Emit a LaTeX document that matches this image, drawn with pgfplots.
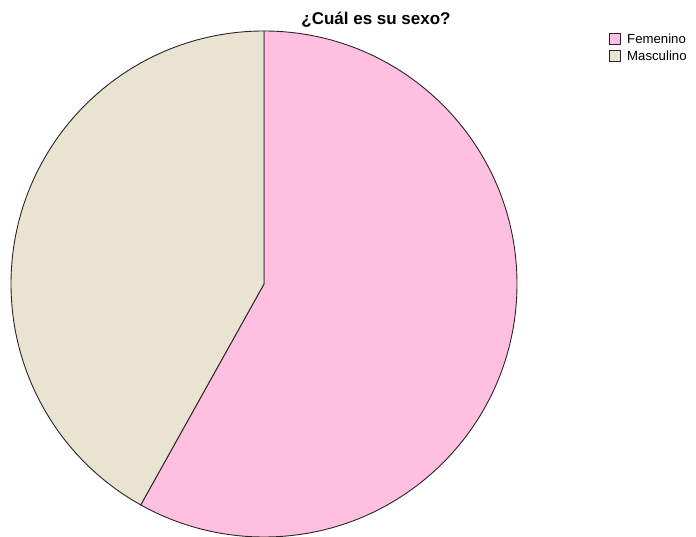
\documentclass[border=0pt]{standalone}
\usepackage{pgfplots}
\pgfplotsset{compat=1.18}
\usepackage{pgfplotstable}
\usepackage{fontspec}
\setmainfont{Liberation Sans}
\definecolor{femenino}{RGB}{255,191,225}
\definecolor{masculino}{RGB}{233,227,209}
\definecolor{borde}{RGB}{45,35,38}

% Porcentaje de respuestas por sexo
\pgfplotstableread{
sexo porcentaje
Femenino 58.1
Masculino 41.9
}\sexotabla

\begin{document}
\begin{tikzpicture}
\useasboundingbox (0pt,0pt) rectangle (696pt,537pt);
\pgfplotstablegetelem{0}{porcentaje}\of\sexotabla
\pgfmathsetmacro{\angF}{3.6*\pgfplotsretval}
\pgfplotstablegetelem{1}{porcentaje}\of\sexotabla
\pgfmathsetmacro{\angM}{3.6*\pgfplotsretval}
\begin{axis}[scale only axis, width=506pt, height=506pt,
  xmin=-1, xmax=1, ymin=-1, ymax=1, hide axis,
  anchor=center, at={(264pt,253pt)}, clip=false]
% sectores, en sentido horario desde las 12
\filldraw[fill=femenino, draw=borde, line width=0.9pt, line join=round]
  (axis cs:0,0) -- (axis cs:0,1) arc[start angle=90, delta angle=-\angF, radius=253pt] -- cycle;
\filldraw[fill=masculino, draw=borde, line width=0.9pt, line join=round]
  (axis cs:0,0) -- (axis cs:0,1) arc[start angle=90, delta angle=\angM, radius=253pt] -- cycle;
\end{axis}
\node[anchor=base, font=\bfseries\fontsize{17}{20}\selectfont] at (376pt,512pt) {¿Cuál es su sexo?};
% leyenda
\filldraw[fill=femenino, draw=borde, line width=0.8pt] (609pt,492.7pt) rectangle (620pt,503.3pt);
\node[anchor=base west, inner sep=0pt, font=\fontsize{13.2}{15}\selectfont] at (627pt,493.3pt) {Femenino};
\filldraw[fill=masculino, draw=borde, line width=0.8pt] (609pt,475.7pt) rectangle (620pt,486.3pt);
\node[anchor=base west, inner sep=0pt, font=\fontsize{13.2}{15}\selectfont] at (627pt,476.3pt) {Masculino};
\end{tikzpicture}
\end{document}
